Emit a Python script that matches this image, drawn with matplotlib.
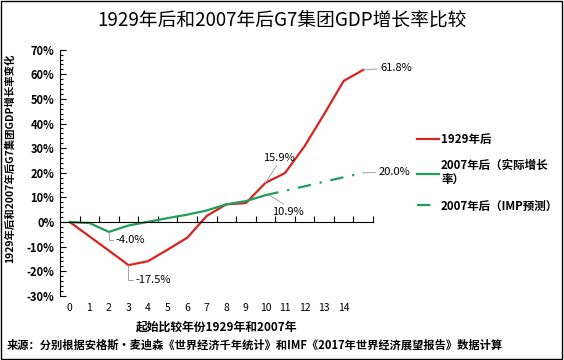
import numpy as np
import matplotlib.pyplot as plt
from matplotlib.patches import Rectangle
from matplotlib.ticker import MultipleLocator, FuncFormatter

plt.rcParams['font.family'] = ['Noto Sans CJK SC', 'DejaVu Sans']
plt.rcParams['axes.unicode_minus'] = False

# 横轴：起始年份之后的年数
years = list(range(16))
year_labels = [str(i) for i in range(15)] + ['']

# 1929年后（%）
g1929 = [0, -5.8, -11.6, -17.5, -15.9, -11.2, -6.4, 2.5, 7.2, 7.7,
         15.9, 19.9, 30.8, 43.8, 57.3, 61.8]
# 2007年后实际增长（%）
g2007 = [0, -0.4, -4.0, -1.4, 0.1, 1.6, 3.0, 4.7, 7.2, 8.5, 10.9]
# 2007年后IMF预测（%），从第10年接续
imf_years = list(range(10, 16))
g2007_imf = [10.9, 12.7, 14.5, 16.4, 18.2, 20.0]

red = '#d8231f'
green = '#1f9e5c'

fig = plt.figure(figsize=(5.64, 3.6), dpi=100)
ax = fig.add_axes([0.1064, 0.178, 0.555, 0.684])

ax.plot(years, g1929, color=red, lw=1.6, label='1929年后')
ax.plot(years[:len(g2007)], g2007, color=green, lw=1.6, label='2007年后（实际增长\n率）')
ax.plot(imf_years, g2007_imf, color=green, lw=1.6, dashes=(6, 4, 1, 4),
        label='2007年后（IMP预测）')

ax.set_xlim(-0.5, 15.5)
ax.set_ylim(-30, 70)

# 纵轴
ax.yaxis.set_major_locator(MultipleLocator(10))
ax.yaxis.set_minor_locator(MultipleLocator(2))
ax.yaxis.set_major_formatter(FuncFormatter(lambda v, p: '%d%%' % round(v)))
ax.tick_params(axis='y', which='major', direction='in', length=4, width=0.8,
               labelsize=8, pad=4)
ax.tick_params(axis='y', which='minor', direction='in', length=2.5, width=0.8)
for t in ax.get_yticklabels():
    t.set_fontweight('bold')

# 横轴线放在0%处
ax.spines['top'].set_visible(False)
ax.spines['right'].set_visible(False)
ax.spines['bottom'].set_position(('data', 0))
ax.set_xticks(np.arange(16) + 0.5)
ax.set_xticklabels([])
ax.tick_params(axis='x', direction='in', length=4, width=0.8)
for x, lab in zip(years, year_labels):
    ax.text(x, -0.05, lab, transform=ax.get_xaxis_transform(),
            ha='center', va='center', fontsize=7.5)

ax.text(0.5, -0.127, '起始比较年份1929年和2007年', transform=ax.transAxes,
        ha='center', va='center', fontsize=8.5, fontweight='bold')
ax.set_ylabel('1929年后和2007年后G7集团GDP增长率变化', fontsize=7.5,
              fontweight='bold')
ax.yaxis.set_label_coords(-0.145, 0.56)

# 数据标签
lead = dict(arrowstyle='-', color='#a0a0a0', lw=0.7, shrinkA=0, shrinkB=0)
ax.annotate('61.8%', xy=(15, 61.8), xytext=(12, 1.5), textcoords='offset points',
            fontsize=8, va='center', ha='left', arrowprops=lead)
ax.annotate('20.0%', xy=(15, 20.0), xytext=(11, 0.5), textcoords='offset points',
            fontsize=8, va='center', ha='left', arrowprops=lead)
ax.annotate('15.9%', xy=(10, 15.9), xytext=(-2, 18), textcoords='offset points',
            fontsize=8, va='center', ha='left',
            arrowprops=dict(lead, relpos=(0.5, 0)))
ax.annotate('10.9%', xy=(10.2, 10.9), xytext=(2, -12), textcoords='offset points',
            fontsize=8, va='center', ha='left',
            arrowprops=dict(lead, relpos=(0.5, 1)))
ax.annotate('-4.0%', xy=(2, -4.0), xytext=(5, -6), textcoords='offset points',
            fontsize=8, va='center', ha='left',
            arrowprops=dict(lead, relpos=(0, 0.5),
                            connectionstyle='angle,angleA=0,angleB=90,rad=0'))
ax.annotate('-17.5%', xy=(3, -17.5), xytext=(5, -11), textcoords='offset points',
            fontsize=8, va='center', ha='left',
            arrowprops=dict(lead, relpos=(0, 0.5),
                            connectionstyle='angle,angleA=0,angleB=90,rad=0'))

leg = ax.legend(loc='center left', bbox_to_anchor=(1.14, 0.5), frameon=False,
                handlelength=1.9, handletextpad=0.2, borderpad=0,
                borderaxespad=0, labelspacing=1.1,
                prop={'weight': 'bold', 'size': 8.3})

fig.text(0.5, 0.945, '1929年后和2007年后G7集团GDP增长率比较', ha='center',
         va='center', fontsize=13.5)
fig.text(0.012, 0.042, '来源：分别根据安格斯·麦迪森《世界经济千年统计》和IMF《2017年世界经济展望报告》数据计算',
         ha='left', va='center', fontsize=8.1, fontweight='bold')

fig.add_artist(Rectangle((0.002, 0.003), 0.995, 0.994, transform=fig.transFigure,
                         fill=False, edgecolor='black', lw=1))

fig.savefig('out.png', dpi=100)
